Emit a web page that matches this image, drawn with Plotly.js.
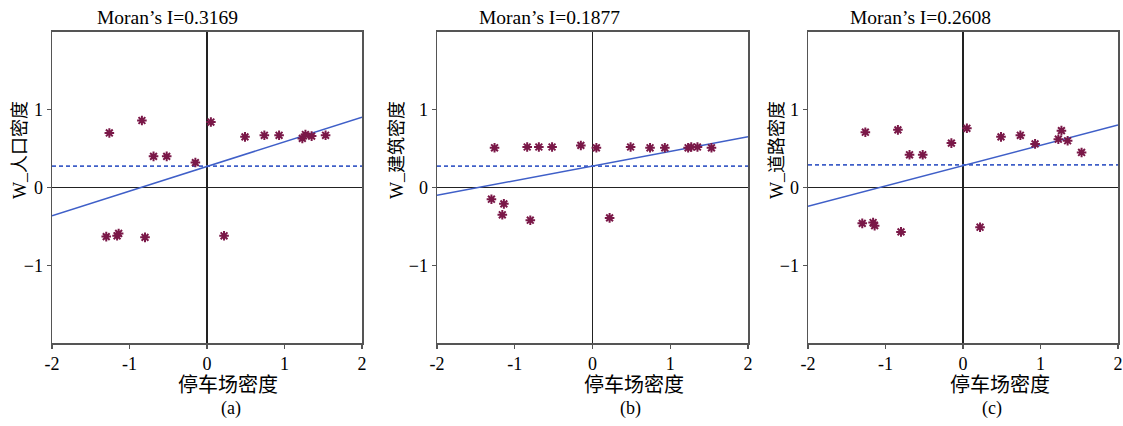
<!DOCTYPE html>
<html>
<head>
<meta charset="utf-8">
<script src="https://cdn.plot.ly/plotly-3.0.1.min.js"></script>
<style>html,body{margin:0;padding:0;background:#fff;}#chart{width:1123px;height:426px;}</style>
</head>
<body>
<div id="chart"></div>
<script>
// ---- data ----
const parkingDensity = [-1.30, -1.26, -1.16, -1.14, -0.84, -0.80, -0.69, -0.52, -0.15, 0.05, 0.22, 0.49, 0.74, 0.93, 1.23, 1.27, 1.35, 1.53];
const wPopulation   = [-0.63, 0.70, -0.62, -0.59, 0.86, -0.64, 0.40, 0.40, 0.32, 0.84, -0.62, 0.65, 0.67, 0.67, 0.63, 0.68, 0.66, 0.67];
const wBuilding     = [-0.15, 0.51, -0.35, -0.21, 0.52, -0.42, 0.52, 0.52, 0.54, 0.51, -0.39, 0.52, 0.51, 0.51, 0.51, 0.52, 0.52, 0.51];
const wRoad         = [-0.46, 0.71, -0.45, -0.49, 0.74, -0.57, 0.42, 0.42, 0.57, 0.76, -0.51, 0.65, 0.67, 0.56, 0.62, 0.73, 0.60, 0.45];
const moranI        = [0.3169, 0.1877, 0.2608];
const fitIntercept  = [0.27, 0.275, 0.28];
const wMean         = [0.275, 0.275, 0.29];
const yTitles       = ['W_人口密度', 'W_建筑密度', 'W_道路密度'];
const panelLabels   = ['(a)', '(b)', '(c)'];
const xTitle        = '停车场密度';
const xTickVals     = [-2, -1, 0, 1, 2];
const xTickText     = ['-2', '-1', '0', '1', '2'];
const yTickVals     = [-1, 0, 1];
const yTickText     = ['\u22121', '0', '1'];
const axisRange     = [-2, 2];

// ---- layout helpers ----
const W = 1123, H = 426;
const px = v => v / W;
const py = v => 1 - v / H;
const panelPx = [[52, 362], [437, 748], [808, 1118]];
const plotTop = 31.7, plotBottom = 343.3;
const titleX = [167.5, 549.5, 920.5];
const xTitleX = [227.5, 634, 1000];
const labelX = [231, 630, 992];
const yTitleX = [20, 397, 777];

const serif = 'Liberation Serif, Noto Sans CJK SC, serif';
const seriesY = [wPopulation, wBuilding, wRoad];
const blue = '#3f5fc8';

const traces = [];
const layout = {
  width: W, height: H,
  margin: {l: 0, r: 0, t: 0, b: 0},
  paper_bgcolor: '#fff', plot_bgcolor: '#fff',
  showlegend: false,
  font: {family: serif, size: 18, color: '#000'},
  annotations: []
};

for (let i = 0; i < 3; i++) {
  const xa = i === 0 ? 'x' : 'x' + (i + 1);
  const ya = i === 0 ? 'y' : 'y' + (i + 1);
  const xk = i === 0 ? 'xaxis' : 'xaxis' + (i + 1);
  const yk = i === 0 ? 'yaxis' : 'yaxis' + (i + 1);

  traces.push({
    x: axisRange, y: [wMean[i], wMean[i]], xaxis: xa, yaxis: ya,
    mode: 'lines', line: {color: blue, width: 1.6, dash: '4px,3px'}, hoverinfo: 'skip'
  });
  traces.push({
    x: axisRange, y: axisRange.map(v => moranI[i] * v + fitIntercept[i]), xaxis: xa, yaxis: ya,
    mode: 'lines', line: {color: blue, width: 1.5}, hoverinfo: 'skip'
  });
  traces.push({
    x: parkingDensity, y: seriesY[i], xaxis: xa, yaxis: ya,
    mode: 'markers', type: 'scatter',
    marker: {symbol: 'asterisk', size: 8, color: '#7a1848', line: {color: '#7a1848', width: 2}}
  });

  const mk = () => ({
    range: axisRange.slice(), showgrid: false, showline: true, mirror: true,
    linecolor: '#555', linewidth: 1.5, ticks: 'outside', ticklen: 4, tickwidth: 1.2, tickcolor: '#555',
    zeroline: true, zerolinecolor: '#222', zerolinewidth: 1.2,
    tickfont: {family: 'Liberation Serif', size: 18, color: '#000'}, fixedrange: true
  });
  layout[xk] = Object.assign(mk(), {
    domain: [px(panelPx[i][0]), px(panelPx[i][1])], anchor: ya,
    tickmode: 'array', tickvals: xTickVals, ticktext: xTickText
  });
  layout[yk] = Object.assign(mk(), {
    domain: [py(plotBottom), py(plotTop)], anchor: xa,
    tickmode: 'array', tickvals: yTickVals, ticktext: yTickText
  });

  layout.annotations.push(
    {xref: 'paper', yref: 'paper', x: px(titleX[i]), y: py(18), text: 'Moran\u2019s I=' + moranI[i].toFixed(4),
     showarrow: false, xanchor: 'center', yanchor: 'middle', font: {family: serif, size: 19.5, color: '#000'}},
    {xref: 'paper', yref: 'paper', x: px(xTitleX[i]), y: py(385), text: xTitle,
     showarrow: false, xanchor: 'center', yanchor: 'middle', font: {family: serif, size: 20, color: '#000'}},
    {xref: 'paper', yref: 'paper', x: px(labelX[i]), y: py(408), text: panelLabels[i],
     showarrow: false, xanchor: 'center', yanchor: 'middle', font: {family: serif, size: 18, color: '#000'}},
    {xref: 'paper', yref: 'paper', x: px(yTitleX[i]), y: py(150), text: yTitles[i], textangle: -90,
     showarrow: false, xanchor: 'center', yanchor: 'middle', font: {family: serif, size: 18, color: '#000'}}
  );
}

Plotly.newPlot('chart', traces, layout, {displayModeBar: false, staticPlot: true});
</script>
</body>
</html>
